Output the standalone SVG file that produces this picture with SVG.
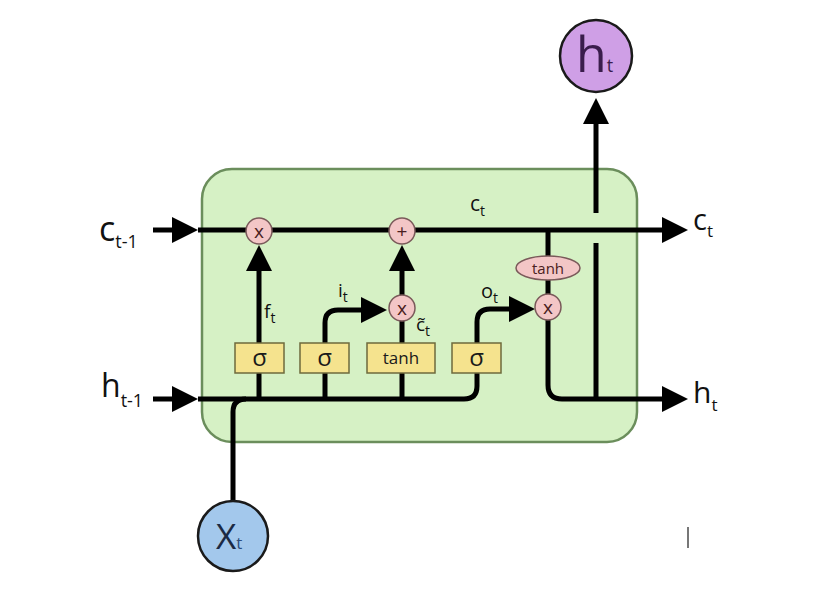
<svg xmlns="http://www.w3.org/2000/svg" width="827" height="596" viewBox="0 0 827 596">
<style>
.ln{fill:none;stroke:#000;stroke-width:5}
.gate{fill:#f5e38e;stroke:#6e6a3c;stroke-width:1.5}
.op{fill:#f3c6c6;stroke:#7a5a5a;stroke-width:1.5}
.t{font-family:"Open Sans","Liberation Sans",sans-serif;fill:#111}
.opt{font-family:"Open Sans","Liberation Sans",sans-serif;fill:#4a2020;font-size:19px;text-anchor:middle}
.gt{font-family:"Open Sans","Liberation Sans",sans-serif;fill:#1a1a1a;text-anchor:middle}
</style>
<defs>
<marker id="ah" viewBox="0 0 26 26" refX="20" refY="13" markerWidth="26" markerHeight="26" orient="auto" markerUnits="userSpaceOnUse"><path d="M0,0 L26,13 L0,26 z" fill="#000"/></marker>
</defs>
<rect width="827" height="596" fill="#fff"/>
<g id="cell">
<rect x="202" y="169" width="435" height="273" rx="30" fill="#d6f1c5" stroke="#6b8e5c" stroke-width="2.5"/>
</g>
<g id="connectors">
<path class="ln" d="M153,230 H192" marker-end="url(#ah)"/>
<path class="ln" d="M198,230 H682" marker-end="url(#ah)"/>
<path class="ln" d="M153,399 H192" marker-end="url(#ah)"/>
<path class="ln" d="M198,399 H464 Q477,399 477,386 V322 Q477,309 490,309 H529" marker-end="url(#ah)"/>
<path class="ln" d="M259,399 V251" marker-end="url(#ah)"/>
<path class="ln" d="M325,399 V323 Q325,310 338,310 H381" marker-end="url(#ah)"/>
<path class="ln" d="M402,399 V251" marker-end="url(#ah)"/>
<path class="ln" d="M548,230 V385 Q548,399 562,399 H682" marker-end="url(#ah)"/>
<path class="ln" d="M596,399 V243"/>
<path class="ln" d="M596,213 V104" marker-end="url(#ah)"/>
<path class="ln" d="M233,501 V412 Q233,399 246,399"/>
</g>
<g id="gate-f"><rect class="gate" x="235" y="343" width="49" height="30"/><text class="gt" x="259.5" y="366" font-size="24">σ</text></g>
<g id="gate-i"><rect class="gate" x="300" y="343" width="49" height="30"/><text class="gt" x="324.5" y="366" font-size="24">σ</text></g>
<g id="gate-c"><rect class="gate" x="367" y="343" width="68" height="30"/><text class="gt" x="401" y="364" font-size="17">tanh</text></g>
<g id="gate-o"><rect class="gate" x="452" y="343" width="49" height="30"/><text class="gt" x="476.5" y="366" font-size="24">σ</text></g>
<g id="op-forget"><circle class="op" cx="259" cy="231" r="13"/><text class="opt" x="259" y="237.5">x</text></g>
<g id="op-add"><circle class="op" cx="402" cy="231" r="13"/><text class="opt" x="402" y="238">+</text></g>
<g id="op-input"><circle class="op" cx="402" cy="308" r="13"/><text class="opt" x="402" y="314.5">x</text></g>
<g id="op-tanh"><ellipse class="op" cx="548" cy="268" rx="32" ry="12"/><text class="opt" x="548" y="273.5" style="font-size:15px">tanh</text></g>
<g id="op-output"><circle class="op" cx="548" cy="307" r="13"/><text class="opt" x="548" y="313.5">x</text></g>
<g id="labels">
<text class="t" x="99" y="241" font-size="34">c<tspan font-size="18" dy="7">t-1</tspan></text>
<text class="t" x="101" y="397" font-size="32">h<tspan font-size="18" dy="10">t-1</tspan></text>
<text class="t" x="693" y="230" font-size="29">c<tspan font-size="17" dy="7">t</tspan></text>
<text class="t" x="693" y="403" font-size="30">h<tspan font-size="17" dy="8">t</tspan></text>
<text class="t" x="470" y="211" font-size="21">c<tspan font-size="14" dy="5">t</tspan></text>
<text class="t" x="264" y="318" font-size="19">f<tspan font-size="14" dy="5">t</tspan></text>
<text class="t" x="338" y="297" font-size="19">i<tspan font-size="14" dy="5">t</tspan></text>
<text class="t" x="481" y="298" font-size="20">o<tspan font-size="14" dy="5">t</tspan></text>
<text class="t" x="416" y="331" font-size="19">c̃<tspan font-size="14" dy="5">t</tspan></text>
</g>
<g id="ht-out"><circle cx="596" cy="56" r="36" fill="#cf9fe6" stroke="#1a1a1a" stroke-width="2.5"/><text x="576" y="72" font-family="Open Sans, Liberation Sans, sans-serif" font-size="50" fill="#3a1d4c">h<tspan font-size="18">t</tspan></text></g>
<g id="xt-in"><circle cx="233" cy="536" r="35" fill="#a3c8ec" stroke="#1a1a1a" stroke-width="2.5"/><text x="216" y="549" font-family="Open Sans, Liberation Sans, sans-serif" font-size="35" fill="#1b2a44">X<tspan font-size="17" fill="#2c4d7c">t</tspan></text></g>
<line x1="688" y1="527" x2="688" y2="548" stroke="#777" stroke-width="2"/>
</svg>
